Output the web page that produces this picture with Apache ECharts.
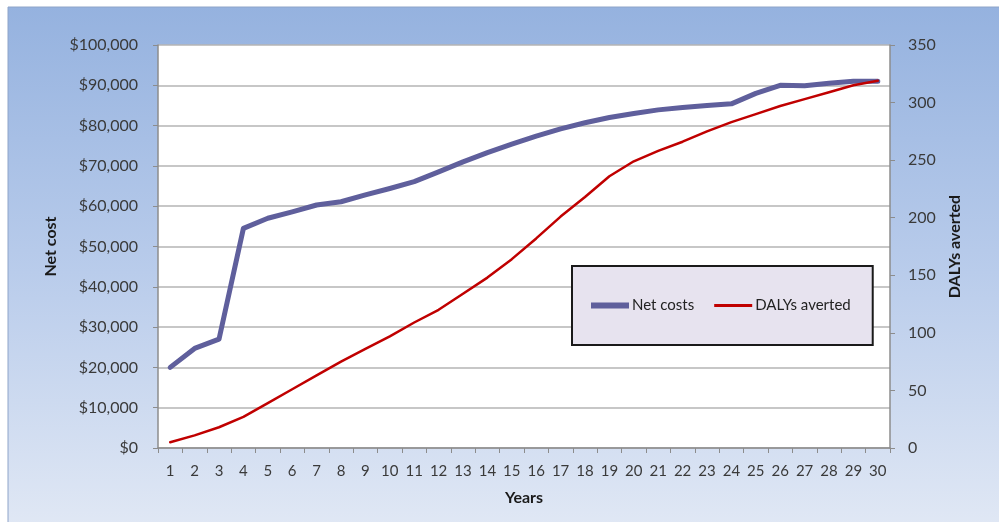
<!DOCTYPE html>
<html>
<head>
<meta charset="utf-8">
<script src="https://cdn.jsdelivr.net/npm/echarts@6/dist/echarts.min.js"></script>
<style>
  html, body { margin: 0; padding: 0; background: #ffffff; }
  #chart { width: 999px; height: 522px; }
</style>
</head>
<body>
<div id="chart"></div>
<script>
// Years since programme start
const years = ['1','2','3','4','5','6','7','8','9','10','11','12','13','14','15',
               '16','17','18','19','20','21','22','23','24','25','26','27','28','29','30'];

// Cumulative net cost (US$)
const netCosts = [20000, 24700, 27000, 54500, 57000, 58600, 60300, 61100, 62800, 64400,
                  66100, 68500, 71000, 73300, 75400, 77400, 79200, 80700, 82000, 83000,
                  83900, 84500, 85000, 85400, 88000, 90000, 89900, 90500, 91000, 91000];

// Cumulative DALYs averted
const dalysAverted = [5, 11, 18, 27, 39, 51, 63, 75, 86, 97,
                      109, 120, 134, 148, 164, 182, 201, 218, 236, 249,
                      258, 266, 275, 283, 290, 297, 303, 309, 315, 319];

const font = 'Lato, "Liberation Sans", Arial, sans-serif';
const textColor = '#3a3a3a';
const axisGrey = '#8c8c8c';
const costColor = '#5f5f9c';
const dalyColor = '#c00000';

const chart = echarts.init(document.getElementById('chart'), null, { renderer: 'canvas' });

chart.setOption({
  animation: false,
  backgroundColor: '#ffffff',
  graphic: [{
    type: 'rect',
    z: -10,
    silent: true,
    shape: { x: 8, y: 7, width: 1000, height: 530 },
    style: {
      fill: new echarts.graphic.LinearGradient(0, 0, 0, 1, [
        { offset: 0, color: '#95b2df' },
        { offset: 0.5, color: '#b9cceb' },
        { offset: 1, color: '#e2e9f5' }
      ]),
      stroke: '#8ea4c9',
      lineWidth: 1
    }
  }],
  grid: {
    left: 158, right: 109, top: 45, bottom: 74,
    show: true,
    backgroundColor: '#ffffff',
    borderWidth: 0
  },
  legend: {
    left: 572, top: 266,
    orient: 'horizontal',
    backgroundColor: '#e7e3ef',
    borderColor: '#1a1a1a',
    borderWidth: 2,
    borderRadius: 0,
    padding: [32, 22, 32, 19],
    itemWidth: 38,
    itemHeight: 6,
    itemGap: 20,
    textStyle: { fontFamily: font, fontSize: 15, color: '#222', padding: [0, 0, 0, -2] },
    data: [
      { name: 'Net costs', icon: 'path://M0,0h38v6h-38z', itemStyle: { color: costColor } },
      { name: 'DALYs averted', icon: 'path://M0,1.5h38v3h-38z M0,0h0.01v0.01h-0.01z M0,5.99h0.01v0.01h-0.01z', itemStyle: { color: dalyColor } }
    ]
  },
  xAxis: {
    type: 'category',
    data: years,
    boundaryGap: true,
    name: 'Years',
    nameLocation: 'middle',
    nameGap: 42,
    nameTextStyle: { fontFamily: font, fontSize: 16, fontWeight: 'bold', color: '#1a1a1a' },
    axisLine: { lineStyle: { color: axisGrey, width: 1.5 } },
    axisTick: { show: true, length: 5, lineStyle: { color: axisGrey, width: 1 } },
    axisLabel: { interval: 0, margin: 16, fontFamily: font, fontSize: 15, color: textColor },
    splitLine: { show: false }
  },
  yAxis: [{
    type: 'value',
    min: 0, max: 100000, interval: 10000,
    name: 'Net cost',
    nameLocation: 'middle',
    nameRotate: 90,
    nameGap: 92,
    nameTextStyle: { fontFamily: font, fontSize: 16, fontWeight: 'bold', color: '#1a1a1a' },
    axisLine: { show: true, lineStyle: { color: axisGrey, width: 1.5 } },
    axisTick: { show: true, length: 5, lineStyle: { color: axisGrey, width: 1 } },
    axisLabel: {
      margin: 20, fontFamily: font, fontSize: 16, color: textColor,
      formatter: v => '$' + v.toLocaleString('en-US')
    },
    splitLine: { show: true, lineStyle: { color: '#b5b5b5', width: 1.5 } }
  }, {
    type: 'value',
    position: 'right',
    min: 0, max: 350, interval: 50,
    name: 'DALYs averted',
    nameLocation: 'middle',
    nameRotate: 90,
    nameGap: 54,
    nameTextStyle: { fontFamily: font, fontSize: 16, fontWeight: 'bold', color: '#1a1a1a' },
    axisLine: { show: true, lineStyle: { color: axisGrey, width: 1.5 } },
    axisTick: { show: true, length: 5, lineStyle: { color: axisGrey, width: 1 } },
    axisLabel: { margin: 18, fontFamily: font, fontSize: 16, color: textColor },
    splitLine: { show: false }
  }],
  series: [{
    name: 'Net costs',
    type: 'line',
    yAxisIndex: 0,
    data: netCosts,
    symbol: 'none',
    color: costColor,
    lineStyle: { color: costColor, width: 5, cap: 'round', join: 'round' },
    z: 3
  }, {
    name: 'DALYs averted',
    type: 'line',
    yAxisIndex: 1,
    data: dalysAverted,
    symbol: 'none',
    color: dalyColor,
    lineStyle: { color: dalyColor, width: 2.5, cap: 'round', join: 'round' },
    z: 4
  }]
});
</script>
</body>
</html>
